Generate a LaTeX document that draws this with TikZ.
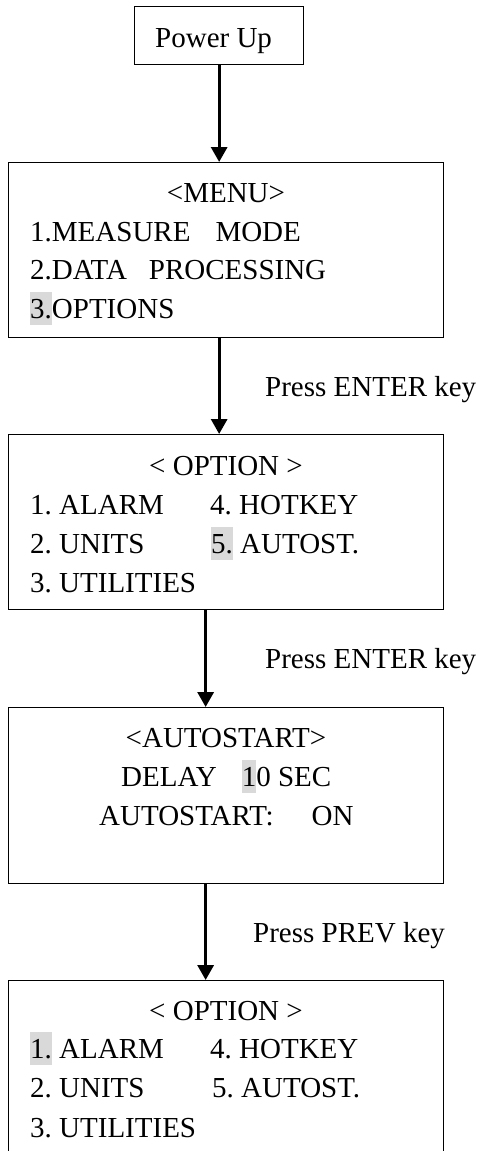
\documentclass[tikz,border=0pt]{standalone}
\usepackage{fontspec}
\setmainfont{Liberation Serif}
\usetikzlibrary{arrows.meta}
\frenchspacing
\definecolor{hlgray}{RGB}{217,217,217}
\newcommand{\hlt}[1]{{\setlength{\fboxsep}{0pt}\colorbox{hlgray}{\rule[-7pt]{0pt}{33pt}#1}}}
\tikzset{
  screen/.style={draw, line width=1.3pt, anchor=north west, inner sep=0pt},
  txt/.style={anchor=base west, inner sep=0pt, font=\fontsize{29}{34}\selectfont},
  ctxt/.style={anchor=base, inner sep=0pt, font=\fontsize{29}{34}\selectfont},
  flow/.style={line width=3.2pt, -{Triangle[length=15pt,width=16pt]}}
}
\begin{document}
\begin{tikzpicture}[x=1pt,y=-1pt]
    \useasboundingbox (0,0) rectangle (482,1151);
    \clip (0,0) rectangle (482,1151);
    %Shape: Rectangle [power up]
    \node [screen, minimum width=169pt, minimum height=58pt] (pwr) at (134,6) {};
    %Shape: Rectangle [menu]
    \node [screen, minimum width=435pt, minimum height=175pt] (menu) at (8,162) {};
    %Shape: Rectangle [option]
    \node [screen, minimum width=435pt, minimum height=175pt] (opt) at (8,434) {};
    %Shape: Rectangle [autostart]
    \node [screen, minimum width=435pt, minimum height=176pt] (auto) at (8,707) {};
    %Shape: Rectangle [option again]
    \node [screen, minimum width=435pt, minimum height=190pt] (optb) at (8,980) {};

    %Straight Lines
    \draw [flow] (pwr.south) -- (menu.north -| pwr.south);
    %Straight Lines
    \draw [flow] (menu.south -| pwr.south) -- (opt.north -| pwr.south);
    %Straight Lines
    \draw [flow] ([xshift=-20.5pt]opt.south) -- ([xshift=-20.5pt]auto.north);
    %Straight Lines
    \draw [flow] ([xshift=-20.5pt]auto.south) -- ([xshift=-20.5pt]optb.north);

    % Text Node
    \node [txt] (pwrtxt) at (155,47) {Power Up};
    % Text Node
    \node [ctxt] (menuhd) at (226,202) {<MENU>};
    % Text Node
    \node [txt] (menua) at (30,241) {1.MEASURE\hspace{25pt}MODE};
    % Text Node
    \node [txt] (menub) at (30,279) {2.DATA\hspace{22pt}PROCESSING};
    % Text Node
    \node [txt] (menuc) at (30,318) {\hlt{3.}OPTIONS};
    % Text Node
    \node [txt] (keya) at (265,396) {Press ENTER key};
    % Text Node
    \node [ctxt] (opthd) at (226,475) {< OPTION >};
    % Text Node
    \node [txt] (opta) at (30,514) {1. ALARM};
    % Text Node
    \node [txt] (optd) at (210,514) {4. HOTKEY};
    % Text Node
    \node [txt] (optb2) at (30,553) {2. UNITS};
    % Text Node
    \node [txt] (opte) at (211,553) {\hlt{5.} AUTOST.};
    % Text Node
    \node [txt] (optc) at (30,592) {3. UTILITIES};
    % Text Node
    \node [txt] (keyb) at (265,668) {Press ENTER key};
    % Text Node
    \node [ctxt] (autohd) at (226,747) {<AUTOSTART>};
    % Text Node
    \node [txt] (delay) at (121,786) {DELAY\hspace{25pt}\hlt{1}0 SEC};
    % Text Node
    \node [txt] (autoon) at (99,825) {AUTOSTART:\hspace{38pt}ON};
    % Text Node
    \node [txt] (keyc) at (253,942) {Press PREV key};
    % Text Node
    \node [ctxt] (optbhd) at (226,1020) {< OPTION >};
    % Text Node
    \node [txt] (optba) at (30,1058) {\hlt{1.} ALARM};
    % Text Node
    \node [txt] (optbd) at (210,1058) {4. HOTKEY};
    % Text Node
    \node [txt] (optbb) at (30,1097) {2. UNITS};
    % Text Node
    \node [txt] (optbe) at (212,1097) {5. AUTOST.};
    % Text Node
    \node [txt] (optbc) at (30,1137) {3. UTILITIES};
\end{tikzpicture}
\end{document}
